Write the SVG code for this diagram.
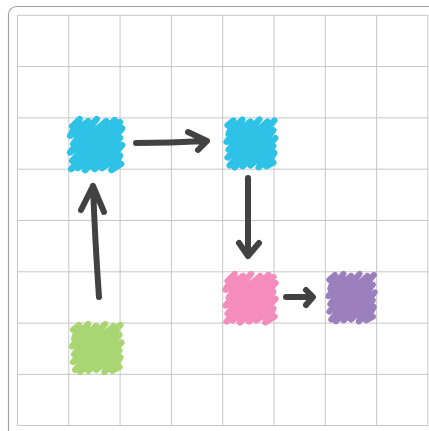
<svg xmlns="http://www.w3.org/2000/svg" xmlns:xlink="http://www.w3.org/1999/xlink" width="429" height="431" viewBox="0 0 429 431">
<style>
.grid line{stroke:#c6c6c6;stroke-width:1}
.arrow{fill:none;stroke:#424242;stroke-width:6;stroke-linecap:round;stroke-linejoin:round}
.blob{fill:none;stroke-width:6.2;stroke-linecap:round;stroke-linejoin:round}
</style>
<defs>
<path id="scribbleA" d="M5,10 L12,3 L3,19 L20,5 L6,27 L28,3 L3,35 L37,5 L5,43 L45,4 L4,51 L50,6 L10,50 L52,12 L17,52 L50,21 L26,51 L52,28 L33,50 L50,38 L42,52 L51,46"/>
<path id="scribbleB" d="M4,9 L10,4 L5,18 L19,3 L3,26 L27,5 L5,34 L36,3 L4,42 L44,5 L6,50 L51,4 L11,52 L50,14 L19,51 L52,22 L27,50 L50,30 L35,52 L51,37 L43,51 L50,47"/>
</defs>
<rect x="8.5" y="6.5" width="440" height="440" rx="8" fill="#fff" stroke="#a0a0a0" stroke-width="1.2"/>
<g class="grid">
<line x1="17.5" y1="15" x2="17.5" y2="425.5"/>
<line x1="68.8" y1="15" x2="68.8" y2="425.5"/>
<line x1="120.1" y1="15" x2="120.1" y2="425.5"/>
<line x1="171.4" y1="15" x2="171.4" y2="425.5"/>
<line x1="222.7" y1="15" x2="222.7" y2="425.5"/>
<line x1="274" y1="15" x2="274" y2="425.5"/>
<line x1="325.3" y1="15" x2="325.3" y2="425.5"/>
<line x1="376.6" y1="15" x2="376.6" y2="425.5"/>
<line x1="427.9" y1="15" x2="427.9" y2="425.5"/>
<line x1="17.5" y1="15.3" x2="428" y2="15.3"/>
<line x1="17.5" y1="66.6" x2="428" y2="66.6"/>
<line x1="17.5" y1="117.9" x2="428" y2="117.9"/>
<line x1="17.5" y1="169.2" x2="428" y2="169.2"/>
<line x1="17.5" y1="220.5" x2="428" y2="220.5"/>
<line x1="17.5" y1="271.8" x2="428" y2="271.8"/>
<line x1="17.5" y1="323.1" x2="428" y2="323.1"/>
<line x1="17.5" y1="374.4" x2="428" y2="374.4"/>
<line x1="17.5" y1="425.5" x2="428" y2="425.5"/>
</g>
<g id="node-cyan-1"><use xlink:href="#scribbleA" href="#scribbleA" class="blob" stroke="#2ec3e6" transform="translate(67,116) scale(1.06,1.04)"/></g>
<g id="node-cyan-2"><use xlink:href="#scribbleB" href="#scribbleB" class="blob" stroke="#2ec3e6" transform="translate(223.5,116.5) scale(1,0.98)"/></g>
<g id="node-pink"><use xlink:href="#scribbleA" href="#scribbleA" class="blob" stroke="#f48dbc" transform="translate(222.5,271) scale(1.02,0.99)"/></g>
<g id="node-purple"><use xlink:href="#scribbleB" href="#scribbleB" class="blob" stroke="#9c80bd" transform="translate(325.5,271) scale(0.95,0.97)"/></g>
<g id="node-green"><use xlink:href="#scribbleB" href="#scribbleB" class="blob" stroke="#a9d672" transform="translate(69,321) scale(1.01,0.98)"/></g>
<g id="connectors">
<path class="arrow" d="M136,143 Q170,143 206,141 M188,132 L207,141 L198,150"/>
<path class="arrow" d="M248,178 L248,256 M239,243 L248,256 L259,243"/>
<path class="arrow" d="M286,297 L312,297 M306,290 L313,297 L306,305"/>
<path class="arrow" d="M99,297 Q95,240 93,186 M81,210 L93,186 L104,212"/>
</g>
</svg>
